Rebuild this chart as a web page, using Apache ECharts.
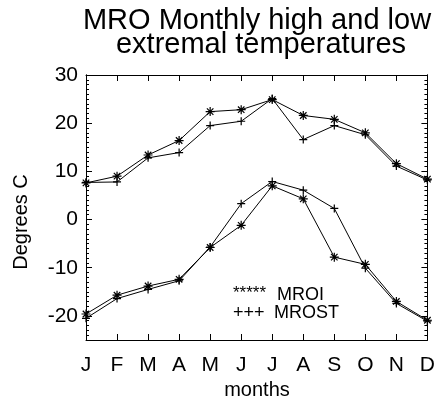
<!DOCTYPE html>
<html><head><meta charset="utf-8">
<script src="https://cdn.jsdelivr.net/npm/echarts@6/dist/echarts.min.js"></script>
<style>html,body{margin:0;padding:0;background:#fff}#c{width:438px;height:403px}</style>
</head><body><div id="c"></div>
<script>
const months = ['J','F','M','A','M','J','J','A','S','O','N','D'];
const mroiHigh  = [7.6, 9.0, 13.4, 16.4, 22.4, 22.8, 24.9, 21.6, 20.8, 18.0, 11.6, 8.4];
const mrostHigh = [7.7, 7.8, 12.8, 13.9, 19.5, 20.4, 25.1, 16.6, 19.5, 17.6, 11.1, 8.2];
const mroiLow   = [-19.6, -15.7, -13.8, -12.4, -5.8, -1.2, 7.0, 4.3, -7.8, -9.3, -17.0, -20.9];
const mrostLow  = [-20.5, -16.4, -14.5, -12.7, -5.7, 3.3, 7.9, 6.1, 2.3, -10.1, -17.4, -21.1];
const yMajor = [-20, -10, 0, 10, 20, 30];

const FONT = 'Liberation Sans, Arial, Helvetica, sans-serif';
const STAR = 'path://M0,-5L0,5M-5,0L5,0M-3.6,-3.6L3.6,3.6M-3.6,3.6L3.6,-3.6';
const PLUS = 'path://M0,-5L0,5M-5,0L5,0';

const chart = echarts.init(document.getElementById('c'), null, {renderer: 'canvas'});

function yAx(pos, major, showLabels) {
  return {
    type: 'value', position: pos, min: -25, max: 30, interval: major ? 10 : 1,
    axisLine: {show: true, onZero: false, lineStyle: {color: '#000', width: 1}},
    splitLine: {show: false},
    axisTick: major
      ? {show: true, inside: true, length: 6, customValues: yMajor, lineStyle: {color: '#000'}}
      : {show: true, inside: true, length: 3, lineStyle: {color: '#000'}},
    axisLabel: showLabels
      ? {show: true, customValues: yMajor, margin: 8, color: '#000', fontSize: 21, fontFamily: FONT}
      : {show: false}
  };
}
function xAx(pos, showLabels) {
  return {
    type: 'category', data: months, boundaryGap: false, position: pos,
    axisLine: {show: true, onZero: false, lineStyle: {color: '#000', width: 1}},
    axisTick: {show: true, inside: true, length: 6, alignWithLabel: true, lineStyle: {color: '#000'}},
    splitLine: {show: false},
    axisLabel: showLabels
      ? {show: true, interval: 0, margin: 15, color: '#000', fontSize: 21, fontFamily: FONT}
      : {show: false}
  };
}
function ser(data, sym, size) {
  return {
    type: 'line', data: data, xAxisIndex: 0, yAxisIndex: 0,
    symbol: sym, symbolSize: size, showSymbol: true, animation: false,
    lineStyle: {color: '#000', width: 1},
    itemStyle: {color: '#000', borderColor: '#000', borderWidth: 1.2}
  };
}

chart.setOption({
  animation: false,
  backgroundColor: '#fff',
  grid: {left: 86, top: 75, right: 9, bottom: 63, containLabel: false},
  xAxis: [xAx('bottom', true), xAx('top', false)],
  yAxis: [yAx('left', false, false), yAx('left', true, true), yAx('right', false, false), yAx('right', true, false)],
  series: [
    ser(mroiHigh, STAR, 9),
    ser(mrostHigh, PLUS, 8),
    ser(mroiLow, STAR, 9),
    ser(mrostLow, PLUS, 8)
  ],
  graphic: [
    {type: 'text', x: 257, y: 21, style: {text: 'MRO Monthly high and low', font: '29px ' + FONT, fill: '#000', textAlign: 'center', textVerticalAlign: 'middle'}},
    {type: 'text', x: 261, y: 45, style: {text: 'extremal temperatures', font: '29px ' + FONT, fill: '#000', textAlign: 'center', textVerticalAlign: 'middle'}},
    {type: 'text', x: 257, y: 390, style: {text: 'months', font: '20px ' + FONT, fill: '#000', textAlign: 'center', textVerticalAlign: 'middle'}},
    {type: 'text', x: 21, y: 222, rotation: Math.PI / 2, style: {text: 'Degrees C', font: '20px ' + FONT, fill: '#000', textAlign: 'center', textVerticalAlign: 'middle'}},
    {type: 'text', x: 233, y: 293, style: {text: '*****', font: '17px ' + FONT, fill: '#000', textAlign: 'left', textVerticalAlign: 'middle'}},
    {type: 'text', x: 277, y: 295, style: {text: 'MROI', font: '18px ' + FONT, fill: '#000', textAlign: 'left', textVerticalAlign: 'middle'}},
    {type: 'text', x: 233, y: 313, style: {text: '+++', font: '18px ' + FONT, fill: '#000', textAlign: 'left', textVerticalAlign: 'middle'}},
    {type: 'text', x: 274, y: 313, style: {text: 'MROST', font: '18px ' + FONT, fill: '#000', textAlign: 'left', textVerticalAlign: 'middle'}}
  ]
});
</script></body></html>
